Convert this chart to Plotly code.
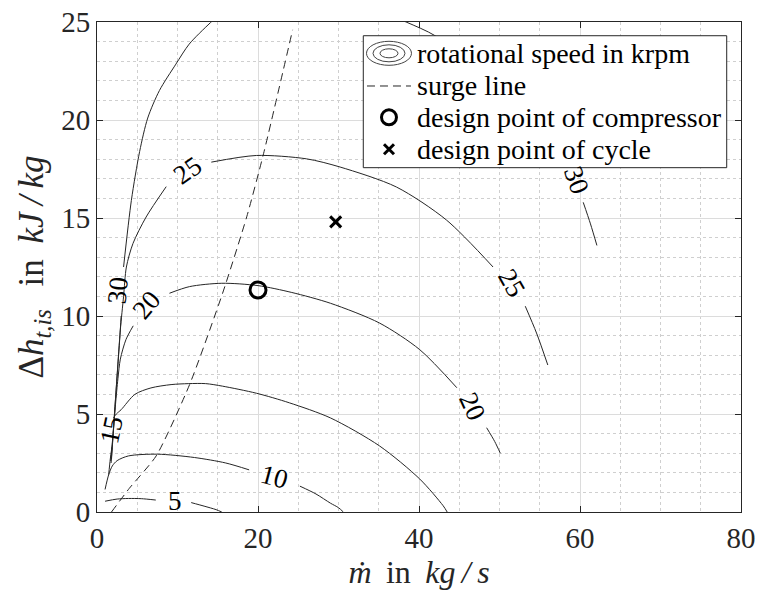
import plotly.graph_objects as go

# ---------------- data ----------------
speed_levels = [5, 10, 15, 20, 25, 30]  # krpm

# speed lines (mass flow in kg/s, isentropic enthalpy rise in kJ/kg); None = gap at a label
n05_x = [1.0, 2.5, 3.9, 5.5, 7.3, None, 11.7, 13.3, 14.8, 15.5]
n05_y = [0.55, 0.66, 0.69, 0.68, 0.61, None, 0.48, 0.30, 0.12, 0.0]

n10_x = [1.0, 1.45, 1.9, 2.5, 3.9, 7.5, 12.1, 16.0, 18.9, None, 25.2, 27.2, 29.0, 30.0, 30.6]
n10_y = [1.15, 1.9, 2.35, 2.62, 2.86, 2.95, 2.78, 2.5, 2.15, None, 1.32, 0.92, 0.45, 0.22, 0.0]

n15_x = [1.45, 1.65, 1.85, None, 2.05, 2.4, 3.0, 4.7, 6.7, 9.2, 11.4, 13.5, 15.6, 19.8, 23.9,
         29.0, 35.1, 40.1, 43.0, 43.5]
n15_y = [1.9, 2.7, 3.3, None, 4.8, 5.0, 5.22, 6.0, 6.33, 6.5, 6.55, 6.55, 6.42, 6.06, 5.57,
         4.8, 3.37, 1.68, 0.32, 0.0]

n20_x = [1.7, 2.0, 2.3, 2.6, 2.9, 3.6, 4.5, None, 9.0, 11.5, 15.5, 20.0, 24.2, 29.0, 35.1,
         40.1, 44.7, None, 48.4, 49.4, 50.1]
n20_y = [2.6, 4.0, 5.5, 6.8, 7.8, 8.8, 9.5, None, 11.16, 11.5, 11.67, 11.55, 11.2, 10.65, 9.64,
         8.28, 6.34, None, 4.3, 3.6, 3.0]

n25_x = [1.8, 2.1, 2.5, 2.9, 3.3, 3.65, 4.47, 6.1, 8.6, None, 14.2, 19.8, 26.0, 30.2, 37.2,
         43.4, 49.2, None, 53.2, 54.6, 56.0]
n25_y = [2.7, 4.5, 7.0, 9.3, 11.0, 12.5, 13.7, 15.05, 16.6, None, 17.85, 18.19, 18.02, 17.6, 16.58,
         14.9, 12.5, None, 10.5, 9.13, 7.5]

n30_x = [1.75, 2.0, 2.3, 2.6, 2.85, 3.0, None, 3.3, 4.27, 5.3, 6.3, 7.75, 9.8, 11.45, 14.1, 17.5,
         None, 33.0, 38.4, 42.0, 47.0, 52.0, 57.0, None, 60.4, 61.3, 62.1]
n30_y = [2.5, 4.0, 5.8, 7.5, 9.0, 10.0, None, 12.5, 15.9, 18.4, 20.1, 21.5, 22.85, 23.87, 24.97, 26.2,
         None, 25.9, 25.0, 24.3, 22.7, 20.6, 17.9, None, 15.8, 14.7, 13.6]

surge_x = [1.8, 4.0, 7.35, 11.5, 15.6, 18.6, 20.7, 24.3]
surge_y = [0.0, 1.2, 2.86, 6.5, 11.16, 15.06, 18.3, 24.6]

design_compressor_x = [20.0]
design_compressor_y = [11.33]
design_cycle_x = [29.65]
design_cycle_y = [14.8]

x_ticks = [0, 20, 40, 60, 80]
y_ticks = [0, 5, 10, 15, 20, 25]

speed_x = [n05_x, n10_x, n15_x, n20_x, n25_x, n30_x]
speed_y = [n05_y, n10_y, n15_y, n20_y, n25_y, n30_y]

# ---------------- styling / layout config ----------------
FONT = "Liberation Serif"
INK = "#262626"

# inline contour-label placement: (level index, x, y, angle)
label_place = [
    (0, 9.65, 0.54, 0),
    (1, 22.1, 1.81, 15),
    (2, 1.79, 4.19, -78),
    (3, 6.14, 10.56, -50),
    (3, 46.7, 5.38, 65),
    (4, 11.3, 17.44, -35),
    (4, 51.5, 11.67, 60),
    (5, 2.6, 11.32, -85),
    (5, 59.55, 16.93, 70),
]

fig = go.Figure()

for xs, ys in zip(speed_x, speed_y):
    fig.add_trace(go.Scatter(
        x=xs, y=ys, mode="lines", connectgaps=False,
        line=dict(color=INK, width=1, shape="spline", smoothing=0.8),
        showlegend=False, hoverinfo="skip"))

fig.add_trace(go.Scatter(
    x=surge_x, y=surge_y, mode="lines",
    line=dict(color=INK, width=1, dash="8px,5px", shape="spline", smoothing=0.6),
    showlegend=False, hoverinfo="skip"))

fig.add_trace(go.Scatter(
    x=design_compressor_x, y=design_compressor_y, mode="markers",
    marker=dict(symbol="circle-open", size=16, color="black", line=dict(width=3, color="black")),
    showlegend=False))

fig.add_trace(go.Scatter(
    x=design_cycle_x, y=design_cycle_y, mode="markers",
    marker=dict(symbol="x-thin-open", size=11, color="black", line=dict(width=3, color="black")),
    showlegend=False))

for idx, lx, ly, ang in label_place:
    fig.add_annotation(x=lx, y=ly, xref="x", yref="y", text=str(speed_levels[idx]),
                       showarrow=False, textangle=ang,
                       font=dict(family=FONT, size=27, color="black"))

# ---------------- custom legend (MATLAB style) ----------------
lg_x0, lg_x1, lg_y0, lg_y1 = 0.4135, 0.9778, 0.7027, 0.972
rows = [0.9361, 0.8694, 0.8055, 0.7402]
icon_x = 0.4534
text_x = 0.4938
legend_texts = ["rotational speed in krpm", "surge line",
                "design point of compressor", "design point of cycle"]

shapes = [dict(type="rect", xref="paper", yref="paper", x0=lg_x0, x1=lg_x1, y0=lg_y0, y1=lg_y1,
               line=dict(color=INK, width=1), fillcolor="white", layer="above")]
for hw, hh in [(22.5, 12), (16, 8.5), (9, 4.5)]:
    shapes.append(dict(type="circle", xref="paper", yref="paper", xsizemode="pixel", ysizemode="pixel",
                       xanchor=icon_x, yanchor=rows[0], x0=-hw, x1=hw, y0=-hh, y1=hh,
                       line=dict(color="#444", width=1), layer="above"))
shapes.append(dict(type="line", xref="paper", yref="paper", xsizemode="pixel", ysizemode="pixel",
                   xanchor=icon_x, yanchor=rows[1], x0=-22, x1=22, y0=0, y1=0,
                   line=dict(color=INK, width=1, dash="8px,5px"), layer="above"))
shapes.append(dict(type="circle", xref="paper", yref="paper", xsizemode="pixel", ysizemode="pixel",
                   xanchor=icon_x, yanchor=rows[2], x0=-7.5, x1=7.5, y0=-7.5, y1=7.5,
                   line=dict(color="black", width=3), layer="above"))
for sgn in (1, -1):
    shapes.append(dict(type="line", xref="paper", yref="paper", xsizemode="pixel", ysizemode="pixel",
                       xanchor=icon_x, yanchor=rows[3], x0=-5, x1=5, y0=-5 * sgn, y1=5 * sgn,
                       line=dict(color="black", width=3), layer="above"))

for r, t in zip(rows, legend_texts):
    fig.add_annotation(x=text_x, y=r, xref="paper", yref="paper", text=t, showarrow=False,
                       xanchor="left", yanchor="middle",
                       font=dict(family=FONT, size=28, color="black"))

axis_common = dict(
    showline=True, linecolor=INK, linewidth=1, mirror="ticks",
    ticks="inside", ticklen=6, tickcolor=INK, tickwidth=1,
    showgrid=True, gridcolor="#dcdcdc", gridwidth=1, zeroline=False,
    automargin=False,
    tickfont=dict(family=FONT, size=29, color="#262626"),
)

fig.update_layout(
    width=768, height=595,
    margin=dict(l=97, r=27, t=22, b=83),
    paper_bgcolor="white", plot_bgcolor="white",
    shapes=shapes,
    xaxis=dict(range=[0, 80], tickvals=x_ticks,
               minor=dict(dtick=5, showgrid=True, griddash="dot", gridcolor="#cfcfcf", ticks=""),
               title=dict(text="<i>ṁ</i>\u2009 in\u2009 <i>kg</i>\u2009<i>/</i>\u2009<i>s</i>",
                          font=dict(family=FONT, size=32, color="#262626"),
                          standoff=6),
               **axis_common),
    yaxis=dict(range=[0, 25], tickvals=y_ticks,
               minor=dict(dtick=1, showgrid=True, griddash="dot", gridcolor="#cfcfcf", ticks=""),
               title=dict(text="Δ<i>h</i><sub><i>t,is</i></sub>\u2009\u2009 in \u2009<i>kJ</i>\u2009<i>/</i>\u2009<i>kg</i>",
                          font=dict(family=FONT, size=35, color="#262626"), standoff=6),
               **axis_common),
    showlegend=False,
)

fig.write_html("out.html", config={"displayModeBar": False},
               post_script="document.body.style.margin='0px';document.body.style.overflow='hidden';")
